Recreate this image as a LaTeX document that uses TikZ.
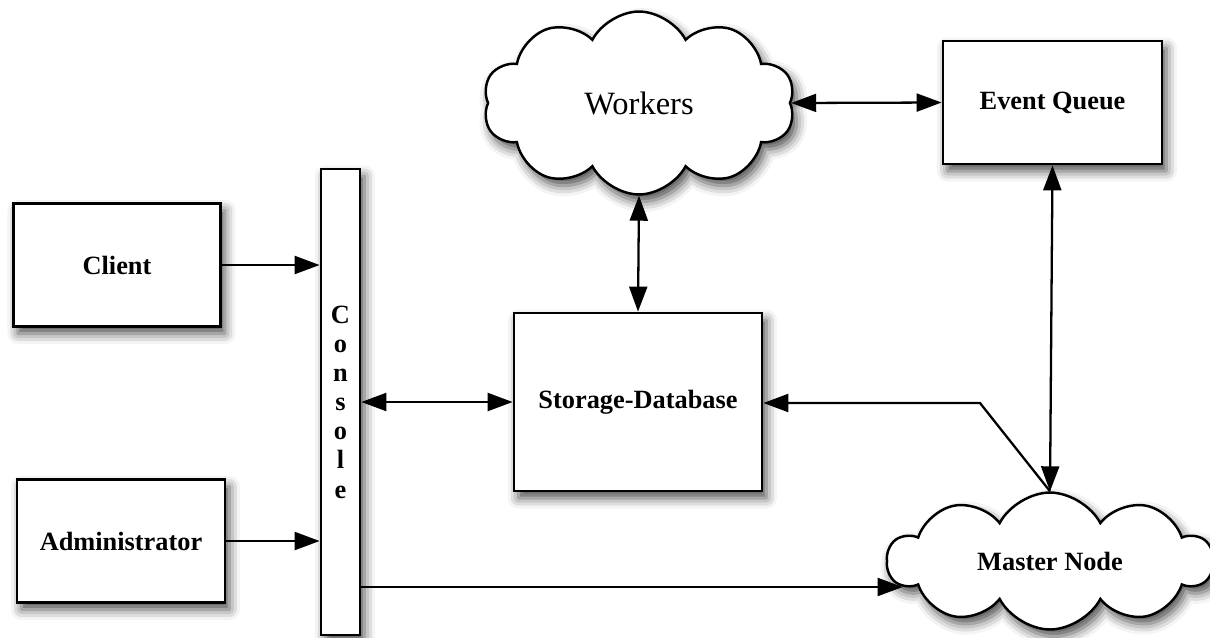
\documentclass[tikz,border=0pt]{standalone}
\usepackage{fontspec}
\setmainfont{Liberation Serif}
\usetikzlibrary{arrows.meta,shapes.symbols,shadows.blur}
\tikzset{
  shade/.style={blur shadow={shadow xshift=2.5pt, shadow yshift=-4pt, shadow blur radius=6pt, shadow opacity=70}},
  box/.style={draw, line width=1.6pt, fill=white, shade, inner sep=0pt,
    font=\fontsize{15}{17}\selectfont\bfseries},
  puff/.style={cloud, cloud puffs=10, cloud puff arc=125, cloud ignores aspect, draw, line width=1.4pt,
    fill=white, shade, inner sep=0pt},
  link/.style={line width=1.3pt, -{Triangle[length=0.5cm, width=0.36cm]}},
  both/.style={line width=1.3pt, {Triangle[length=0.5cm, width=0.36cm]}-{Triangle[length=0.5cm, width=0.36cm]}}
}
\begin{document}
\begin{tikzpicture}[x=0.02cm, y=-0.02cm]
    \useasboundingbox (0,0) rectangle (1210,637);

    \node[puff, minimum width=6.24cm, minimum height=3.66cm,
      font=\fontsize{18.5}{22}\selectfont] (workers) at (639,103) {Workers};
    \node[puff, minimum width=6.5cm, minimum height=2.74cm,
      font=\fontsize{15}{17}\selectfont\bfseries] (master) at (1050,561) {Master Node};

    \node[box, minimum width=4.14cm, minimum height=2.46cm] (client) at (117,265) {Client};
    \node[box, minimum width=4.16cm, minimum height=2.46cm] (admin) at (121,541) {Administrator};
    \node[box, minimum width=0.78cm, minimum height=9.32cm, align=center,
      font=\fontsize{15}{16.6}\selectfont\bfseries] (console) at (340.5,402) {C\\o\\n\\s\\o\\l\\e};
    \node[box, minimum width=4.96cm, minimum height=3.56cm] (store) at (638,402) {Storage-Database};
    \node[box, minimum width=4.38cm, minimum height=2.46cm] (queue) at (1052.5,102.5) {Event Queue};

    \coordinate (bend) at (980,403);

    \draw[link] (client) -- (client -| console.west);
    \draw[link] (admin) -- (admin -| console.west);
    \draw[both] (console.east |- store) -- (store.west);
    \draw[both] (workers.south) -- (store.north);
    \draw[both] (workers.east) -- (queue.west);
    \draw[both] (queue.south) -- (master.north);
    \draw[link] (master.north) -- (bend) -- (bend -| store.east);
    \draw[link] (console.east |- master.190) -- (master.190);

\end{tikzpicture}
\end{document}
